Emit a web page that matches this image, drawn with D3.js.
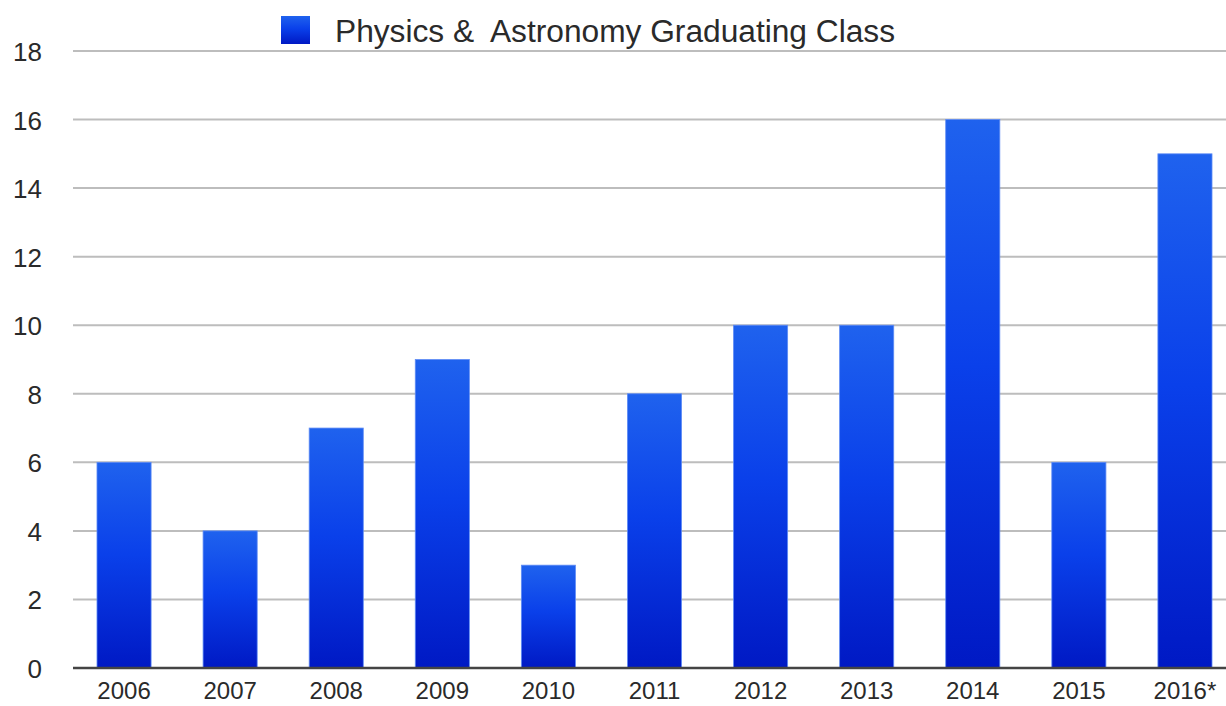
<!DOCTYPE html>
<html>
<head>
<meta charset="utf-8">
<script src="https://cdn.jsdelivr.net/npm/d3@7"></script>
<style>
  body { margin: 0; background: #fff; }
  svg { display: block; font-family: "Liberation Sans", Arial, sans-serif; }
</style>
</head>
<body>
<div class="chart"></div>
<script>
var years = ["2006", "2007", "2008", "2009", "2010", "2011", "2012", "2013", "2014", "2015", "2016*"];
var graduates = [6, 4, 7, 9, 3, 8, 10, 10, 16, 6, 15];
var yTicks = [0, 2, 4, 6, 8, 10, 12, 14, 16, 18];
var seriesName = "Physics &  Astronomy Graduating Class";

var width = 1226, height = 706;
var baseY = 668, topY = 51;

var svg = d3.select(".chart")
    .append("svg")
    .attr("width", width)
    .attr("height", height);

var defs = svg.append("defs");
var grad = defs.append("linearGradient")
    .attr("id", "barGrad")
    .attr("x1", 0).attr("y1", 0).attr("x2", 0).attr("y2", 1);
grad.append("stop").attr("offset", "0%").attr("stop-color", "#1f62ee");
grad.append("stop").attr("offset", "45%").attr("stop-color", "#0a40ea");
grad.append("stop").attr("offset", "100%").attr("stop-color", "#0019c4");

var x = d3.scaleBand()
    .domain(years)
    .range([71, 1238])
    .paddingInner(0.49)
    .paddingOuter(0.245);

var y = d3.scaleLinear()
    .domain([0, 18])
    .range([baseY, topY]);

// gridlines
svg.append("g")
    .attr("class", "grid")
    .selectAll("line")
    .data(yTicks.filter(function (d) { return d > 0; }))
    .enter()
    .append("line")
    .attr("x1", 73)
    .attr("x2", width)
    .attr("y1", function (d) { return y(d); })
    .attr("y2", function (d) { return y(d); })
    .style("stroke", "#bdbdbd")
    .style("stroke-width", 2);

// y labels
svg.append("g")
    .selectAll("text")
    .data(yTicks)
    .enter()
    .append("text")
    .attr("x", 42)
    .attr("y", function (d) { return y(d) + 10; })
    .style("text-anchor", "end")
    .style("font-size", "26px")
    .style("fill", "#2a2a2a")
    .text(function (d) { return d; });

// bars
svg.append("g")
    .selectAll("rect")
    .data(years)
    .enter()
    .append("rect")
    .attr("x", function (d) { return x(d); })
    .attr("y", function (d, i) { return y(graduates[i]); })
    .attr("width", x.bandwidth())
    .attr("height", function (d, i) { return baseY - y(graduates[i]); })
    .attr("fill", "url(#barGrad)")
    .style("stroke", "#5f8cf5")
    .style("stroke-width", 0.8);

// baseline
svg.append("line")
    .attr("x1", 73)
    .attr("x2", width)
    .attr("y1", baseY)
    .attr("y2", baseY)
    .style("stroke", "#444")
    .style("stroke-width", 2.5);

// x labels
svg.append("g")
    .selectAll("text")
    .data(years)
    .enter()
    .append("text")
    .attr("x", function (d) { return x(d) + x.bandwidth() / 2; })
    .attr("y", 699)
    .style("text-anchor", "middle")
    .style("font-size", "24px")
    .style("fill", "#2a2a2a")
    .text(function (d) { return d; });

// legend
svg.append("rect")
    .attr("x", 281)
    .attr("y", 16)
    .attr("width", 29)
    .attr("height", 28)
    .attr("fill", "url(#barGrad)");

svg.append("text")
    .attr("x", 335)
    .attr("y", 42)
    .attr("textLength", 560)
    .attr("lengthAdjust", "spacingAndGlyphs")
    .style("font-size", "31px")
    .style("fill", "#2a2a2a")
    .style("white-space", "pre")
    .attr("xml:space", "preserve")
    .text(seriesName);
</script>
</body>
</html>
